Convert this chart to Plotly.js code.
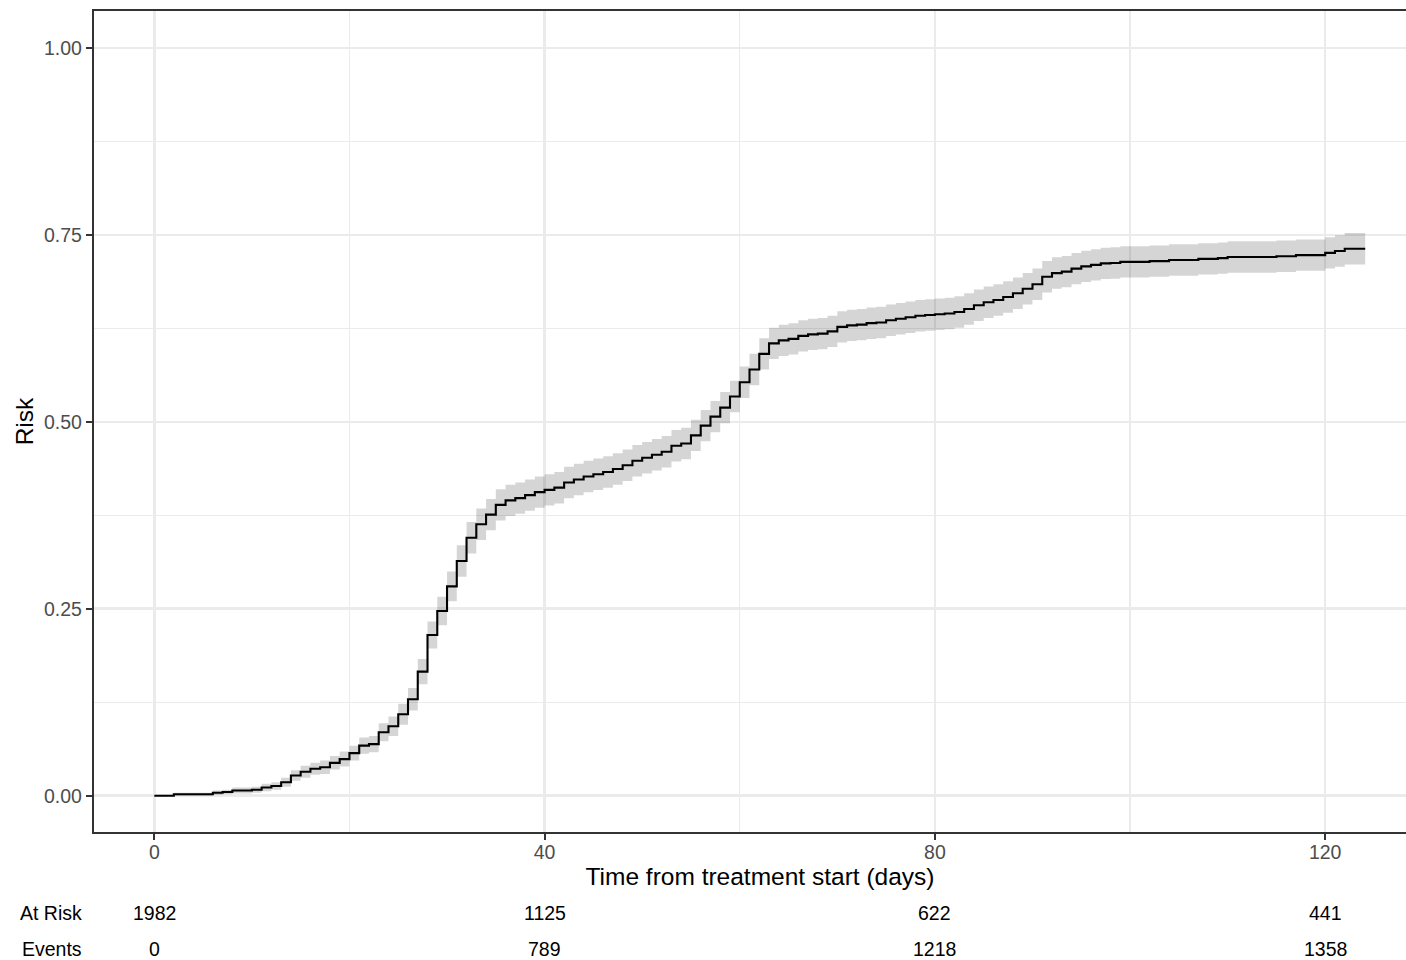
<!DOCTYPE html>
<html>
<head>
<meta charset="utf-8">
<script src="https://cdn.plot.ly/plotly-3.0.1.min.js"></script>
<style>
html, body { margin: 0; padding: 0; background: #ffffff; overflow: hidden; width: 1406px; height: 960px; }
#chart { width: 1430px; height: 960px; }
</style>
</head>
<body>
<div id="chart"></div>
<script>
// Step times (days)
const days = [0, 2, 6, 7, 8, 10, 11, 12, 13, 14, 15, 16, 17, 18, 19, 20, 21, 22, 23, 24, 25, 26, 27, 28, 29,
  30, 31, 32, 33, 34, 35, 36, 37, 38, 39, 40, 41, 42, 43, 44, 45, 46, 47, 48, 49, 50, 51, 52, 53, 54, 55, 56, 57, 58, 59,
  60, 61, 62, 63, 64, 65, 66, 67, 68, 69, 70, 71, 72, 73, 74, 75, 76, 77, 78, 79, 80, 81, 82, 83, 84, 85, 86, 87, 88, 89,
  90, 91, 92, 93, 94, 95, 96, 97, 98, 99, 102, 104, 107, 109, 110, 115, 117, 120, 121, 122, 124.1];

// Cumulative risk estimate
const risk = [0.000, 0.002, 0.004, 0.005, 0.007, 0.008, 0.011, 0.013, 0.018, 0.027, 0.032, 0.036, 0.038, 0.044, 0.049, 0.057, 0.067, 0.069, 0.085, 0.093, 0.109, 0.129, 0.166, 0.215, 0.247,
  0.280, 0.314, 0.345, 0.363, 0.376, 0.389, 0.395, 0.398, 0.402, 0.406, 0.409, 0.412, 0.419, 0.423, 0.427, 0.430, 0.433, 0.437, 0.442, 0.448, 0.452, 0.456, 0.460, 0.468, 0.471, 0.482, 0.495, 0.507, 0.519, 0.534,
  0.553, 0.570, 0.591, 0.605, 0.609, 0.611, 0.615, 0.617, 0.618, 0.621, 0.627, 0.629, 0.630, 0.632, 0.633, 0.636, 0.638, 0.640, 0.642, 0.643, 0.644, 0.645, 0.647, 0.651, 0.656, 0.660, 0.663, 0.667, 0.672, 0.678,
  0.684, 0.694, 0.699, 0.701, 0.705, 0.708, 0.710, 0.712, 0.7125, 0.714, 0.715, 0.7165, 0.718, 0.719, 0.7205, 0.7215, 0.723, 0.726, 0.7285, 0.7316, 0.7316];

// Confidence band lower bound
const lower = [0.000, 0.000, 0.001, 0.002, 0.003, 0.004, 0.006, 0.008, 0.012, 0.020, 0.024, 0.028, 0.029, 0.035, 0.039, 0.047, 0.056, 0.058, 0.073, 0.080, 0.095, 0.114, 0.149, 0.197, 0.228,
  0.260, 0.293, 0.324, 0.342, 0.355, 0.368, 0.374, 0.377, 0.381, 0.385, 0.388, 0.391, 0.398, 0.402, 0.406, 0.409, 0.412, 0.416, 0.421, 0.427, 0.431, 0.435, 0.439, 0.447, 0.450, 0.461, 0.474, 0.486, 0.498, 0.513,
  0.532, 0.549, 0.570, 0.584, 0.588, 0.590, 0.594, 0.596, 0.597, 0.600, 0.606, 0.608, 0.609, 0.611, 0.612, 0.615, 0.617, 0.619, 0.621, 0.622, 0.623, 0.624, 0.626, 0.630, 0.635, 0.639, 0.642, 0.646, 0.651, 0.657,
  0.663, 0.673, 0.678, 0.680, 0.684, 0.687, 0.689, 0.691, 0.6915, 0.693, 0.694, 0.6955, 0.697, 0.698, 0.6995, 0.7005, 0.702, 0.705, 0.7075, 0.7106, 0.7106];

// Confidence band upper bound
const upper = [0.000, 0.004, 0.007, 0.008, 0.011, 0.012, 0.016, 0.018, 0.024, 0.034, 0.040, 0.044, 0.047, 0.053, 0.059, 0.067, 0.078, 0.080, 0.097, 0.106, 0.123, 0.144, 0.183, 0.233, 0.266,
  0.300, 0.335, 0.366, 0.384, 0.397, 0.410, 0.416, 0.419, 0.423, 0.427, 0.430, 0.433, 0.440, 0.444, 0.448, 0.451, 0.454, 0.458, 0.463, 0.469, 0.473, 0.477, 0.481, 0.489, 0.492, 0.503, 0.516, 0.528, 0.540, 0.555,
  0.574, 0.591, 0.612, 0.626, 0.630, 0.632, 0.636, 0.638, 0.639, 0.642, 0.648, 0.650, 0.651, 0.653, 0.654, 0.657, 0.659, 0.661, 0.663, 0.664, 0.665, 0.666, 0.668, 0.672, 0.677, 0.681, 0.684, 0.688, 0.693, 0.699,
  0.705, 0.715, 0.720, 0.722, 0.726, 0.729, 0.731, 0.733, 0.7335, 0.735, 0.736, 0.7375, 0.739, 0.740, 0.7415, 0.7425, 0.744, 0.747, 0.7495, 0.7526, 0.7526];

// Risk table
const tableDays = [0, 40, 80, 120];
const atRisk = [1982, 1125, 622, 441];
const events = [0, 789, 1218, 1358];
const rowLabels = ["At Risk", "Events"];

const xTickVals = [0, 40, 80, 120];
const yTickVals = [0, 0.25, 0.5, 0.75, 1.0];

const FONT = "Liberation Sans, Arial, sans-serif";

const traces = [
  { x: days, y: lower, mode: "lines", line: { shape: "hv", width: 0, color: "rgba(0,0,0,0)" },
    hoverinfo: "skip", showlegend: false },
  { x: days, y: upper, mode: "lines", line: { shape: "hv", width: 0, color: "rgba(0,0,0,0)" },
    fill: "tonexty", fillcolor: "rgba(0,0,0,0.165)", hoverinfo: "skip", showlegend: false },
  { x: days, y: risk, mode: "lines", line: { shape: "hv", width: 2.1, color: "#000000" }, showlegend: false }
];

const annotations = [];
function addRow(values, yPaper, label) {
  annotations.push({ xref: "paper", yref: "paper", x: -0.0075, y: yPaper, xanchor: "right", yanchor: "middle",
    text: label, showarrow: false, font: { family: FONT, size: 19.5, color: "#000000" } });
  values.forEach((v, i) => {
    annotations.push({ xref: "x", yref: "paper", x: tableDays[i], y: yPaper, xanchor: "center", yanchor: "middle",
      text: String(v), showarrow: false, font: { family: FONT, size: 19.5, color: "#000000" } });
  });
}
addRow(atRisk, -0.0984, rowLabels[0]);
addRow(events, -0.1422, rowLabels[1]);

const layout = {
  width: 1430, height: 960,
  margin: { l: 94, r: 4, t: 11, b: 128, pad: 0 },
  paper_bgcolor: "#ffffff", plot_bgcolor: "#ffffff",
  font: { family: FONT },
  showlegend: false,
  xaxis: {
    range: [-6.18, 130.33], tickvals: xTickVals, ticktext: xTickVals.map(String),
    showgrid: true, gridcolor: "#EBEBEB", gridwidth: 2.6,
    minor: { dtick: 20, tick0: 0, showgrid: true, gridcolor: "#EBEBEB", gridwidth: 1.3 },
    zeroline: false, showline: true, mirror: true, linecolor: "#333333", linewidth: 2.2,
    ticks: "outside", ticklen: 6, tickwidth: 2, tickcolor: "#333333", ticklabelstandoff: -5,
    tickfont: { family: FONT, size: 19.5, color: "#4D4D4D" },
    title: { text: "Time from treatment start (days)", font: { family: FONT, size: 24.5, color: "#000000" }, standoff: 6 }
  },
  yaxis: {
    range: [-0.0485, 1.0495], tickvals: yTickVals, tickformat: ".2f",
    showgrid: true, gridcolor: "#EBEBEB", gridwidth: 2.6,
    minor: { dtick: 0.125, tick0: 0, showgrid: true, gridcolor: "#EBEBEB", gridwidth: 1.3 },
    zeroline: false, showline: true, mirror: true, linecolor: "#333333", linewidth: 2.2,
    ticks: "outside", ticklen: 6, tickwidth: 2, tickcolor: "#333333",
    tickfont: { family: FONT, size: 19.5, color: "#4D4D4D" },
    title: { text: "Risk", font: { family: FONT, size: 24.5, color: "#000000" }, standoff: 3 }
  },
  annotations: annotations
};

Plotly.newPlot("chart", traces, layout, { staticPlot: true, displayModeBar: false });
</script>
</body>
</html>
